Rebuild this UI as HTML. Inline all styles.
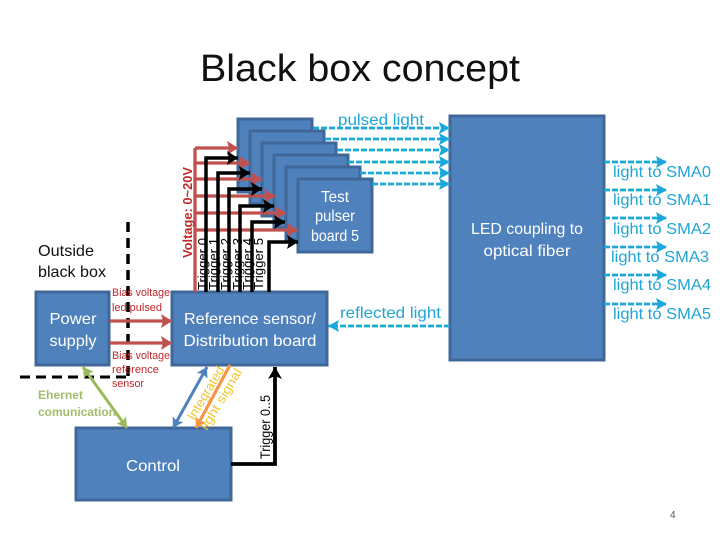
<!DOCTYPE html>
<html>
<head>
<meta charset="utf-8">
<style>
html,body{margin:0;padding:0;background:#fff;width:720px;height:540px;overflow:hidden}
svg{display:block}
text{font-family:"Liberation Sans",sans-serif}
.b{fill:#4f81bd;stroke:#3f6797;stroke-width:3}
.w{fill:#fff;font-size:16px;text-anchor:middle}
.c{fill:#1fa5d6;font-size:16px}
.r{stroke:#c0504d;stroke-width:3.3;fill:none}
.k{stroke:#000;stroke-width:3.5;fill:none}
.d{stroke:#1aa7dc;stroke-width:2.8;stroke-dasharray:6 2;fill:none}
.s{fill:#c0282a;font-size:11px}
.t{fill:#000;font-size:13px}
</style>
</head>
<body>
<svg width="720" height="540" viewBox="0 0 720 540" xmlns="http://www.w3.org/2000/svg">
<defs>
<marker id="ar" markerUnits="userSpaceOnUse" markerWidth="14" markerHeight="14" refX="11" refY="7" orient="auto"><path d="M0 0L11 7L0 14L2 7Z" fill="#c0504d"/></marker>
<marker id="ak" markerUnits="userSpaceOnUse" markerWidth="14" markerHeight="14" refX="11" refY="7" orient="auto"><path d="M0 0L11 7L0 14L2 7Z" fill="#000"/></marker>
<marker id="ac" markerUnits="userSpaceOnUse" markerWidth="14" markerHeight="12" refX="11" refY="6" orient="auto"><path d="M0 0L11 6L0 12L2 6Z" fill="#1aa7dc"/></marker>
<marker id="ag" markerUnits="userSpaceOnUse" markerWidth="12" markerHeight="12" refX="10" refY="6" orient="auto-start-reverse"><path d="M0 0L10 6L0 12L2 6Z" fill="#9bbb59"/></marker>
<marker id="ab" markerUnits="userSpaceOnUse" markerWidth="12" markerHeight="12" refX="10" refY="6" orient="auto-start-reverse"><path d="M0 0L10 6L0 12L2 6Z" fill="#4f81bd"/></marker>
<marker id="ao" markerUnits="userSpaceOnUse" markerWidth="12" markerHeight="12" refX="10" refY="6" orient="auto"><path d="M0 0L10 6L0 12L2 6Z" fill="#f79646"/></marker>
<marker id="aK" markerUnits="userSpaceOnUse" markerWidth="16" markerHeight="16" refX="12" refY="8" orient="auto"><path d="M0 1L12 8L0 15L3 8Z" fill="#000"/></marker>
</defs>

<text x="200" y="81" font-size="38" fill="#111" textLength="320" lengthAdjust="spacingAndGlyphs">Black box concept</text>

<!-- test pulser boards -->
<rect class="b" x="238" y="119" width="74" height="73"/>
<rect class="b" x="250" y="131" width="74" height="73"/>
<rect class="b" x="262" y="143" width="74" height="73"/>
<rect class="b" x="274" y="155" width="74" height="73"/>
<rect class="b" x="286" y="167" width="74" height="73"/>
<rect class="b" x="298" y="179" width="74" height="73"/>

<!-- main boxes -->
<rect class="b" x="450" y="116" width="154" height="244"/>
<rect class="b" x="172" y="292" width="155" height="73"/>
<rect class="b" x="36" y="292" width="73" height="73"/>
<rect class="b" x="76" y="428" width="155" height="72"/>

<!-- red voltage -->
<path class="r" d="M195 292V148"/>
<path class="r" d="M195 148H238" marker-end="url(#ar)"/>
<path class="r" d="M195 163H250" marker-end="url(#ar)"/>
<path class="r" d="M195 179H262" marker-end="url(#ar)"/>
<path class="r" d="M195 196H275" marker-end="url(#ar)"/>
<path class="r" d="M195 213H286" marker-end="url(#ar)"/>
<path class="r" d="M195 230H298" marker-end="url(#ar)"/>

<!-- black triggers -->
<path class="k" d="M206 292V158H238" marker-end="url(#ak)"/>
<path class="k" d="M218 292V173H250" marker-end="url(#ak)"/>
<path class="k" d="M229 292V189H262" marker-end="url(#ak)"/>
<path class="k" d="M240 292V206H274" marker-end="url(#ak)"/>
<path class="k" d="M252 292V222H285" marker-end="url(#ak)"/>
<path class="k" d="M269 292V242H298" marker-end="url(#ak)"/>

<!-- pulsed light dashes -->
<path class="d" d="M313 128H450" marker-end="url(#ac)"/>
<path class="d" d="M325 139H450" marker-end="url(#ac)"/>
<path class="d" d="M337 150H450" marker-end="url(#ac)"/>
<path class="d" d="M348 162H450" marker-end="url(#ac)"/>
<path class="d" d="M360 173H450" marker-end="url(#ac)"/>
<path class="d" d="M372 184H450" marker-end="url(#ac)"/>

<!-- output dashes -->
<path class="d" d="M604 162H667" marker-end="url(#ac)"/>
<path class="d" d="M604 190H667" marker-end="url(#ac)"/>
<path class="d" d="M604 218H667" marker-end="url(#ac)"/>
<path class="d" d="M604 247H667" marker-end="url(#ac)"/>
<path class="d" d="M604 275H667" marker-end="url(#ac)"/>
<path class="d" d="M604 304H667" marker-end="url(#ac)"/>

<!-- reflected -->
<path class="d" d="M450 326H328" marker-end="url(#ac)"/>

<!-- black box boundary -->
<path d="M128 222V378" stroke="#000" stroke-width="3.5" stroke-dasharray="10 6" fill="none"/>
<path d="M20 377H128" stroke="#000" stroke-width="3" stroke-dasharray="10 6" fill="none"/>

<!-- bias arrows -->
<path class="r" d="M110 321H172" marker-end="url(#ar)"/>
<path class="r" d="M110 343H172" marker-end="url(#ar)"/>

<!-- diagonal -->
<path d="M83 367L127 428" stroke="#9bbb59" stroke-width="3" fill="none" marker-start="url(#ag)" marker-end="url(#ag)"/>
<path d="M207 367L173 428" stroke="#4f81bd" stroke-width="3" fill="none" marker-start="url(#ab)" marker-end="url(#ab)"/>

<!-- Trigger 0..5 -->
<path d="M231 464H275V367" stroke="#000" stroke-width="3.8" fill="none" marker-end="url(#aK)"/>

<!-- box labels -->
<text class="w" x="335" y="202" textLength="28" lengthAdjust="spacingAndGlyphs">Test</text>
<text class="w" x="335" y="221" textLength="40" lengthAdjust="spacingAndGlyphs">pulser</text>
<text class="w" x="335" y="241" textLength="48" lengthAdjust="spacingAndGlyphs">board 5</text>
<text class="w" x="527" y="234" textLength="112" lengthAdjust="spacingAndGlyphs">LED coupling to</text>
<text class="w" x="527" y="256" textLength="87" lengthAdjust="spacingAndGlyphs">optical fiber</text>
<text class="w" x="250" y="324" textLength="132" lengthAdjust="spacingAndGlyphs">Reference sensor/</text>
<text class="w" x="250" y="346" textLength="133" lengthAdjust="spacingAndGlyphs">Distribution board</text>
<text class="w" x="73" y="324" textLength="47" lengthAdjust="spacingAndGlyphs">Power</text>
<text class="w" x="73" y="346" textLength="47" lengthAdjust="spacingAndGlyphs">supply</text>
<text class="w" x="153" y="471" textLength="54" lengthAdjust="spacingAndGlyphs">Control</text>

<text x="38" y="256" font-size="16" fill="#111" textLength="56" lengthAdjust="spacingAndGlyphs">Outside</text>
<text x="38" y="277" font-size="16" fill="#111" textLength="68" lengthAdjust="spacingAndGlyphs">black box</text>

<!-- cyan labels -->
<text class="c" x="338" y="125" textLength="86" lengthAdjust="spacingAndGlyphs">pulsed light</text>
<text class="c" x="340" y="318" textLength="101" lengthAdjust="spacingAndGlyphs">reflected light</text>
<text class="c" x="613" y="177" textLength="98" lengthAdjust="spacingAndGlyphs">light to SMA0</text>
<text class="c" x="613" y="205" textLength="98" lengthAdjust="spacingAndGlyphs">light to SMA1</text>
<text class="c" x="613" y="234" textLength="98" lengthAdjust="spacingAndGlyphs">light to SMA2</text>
<text class="c" x="611" y="262" textLength="98" lengthAdjust="spacingAndGlyphs">light to SMA3</text>
<text class="c" x="613" y="290" textLength="98" lengthAdjust="spacingAndGlyphs">light to SMA4</text>
<text class="c" x="613" y="319" textLength="98" lengthAdjust="spacingAndGlyphs">light to SMA5</text>

<!-- small red labels -->
<text class="s" x="112" y="296" textLength="58" lengthAdjust="spacingAndGlyphs">Bias voltage</text>
<text class="s" x="112" y="311" textLength="50" lengthAdjust="spacingAndGlyphs">led pulsed</text>
<text class="s" x="112" y="359" textLength="58" lengthAdjust="spacingAndGlyphs">Bias voltage</text>
<text class="s" x="112" y="373" textLength="47" lengthAdjust="spacingAndGlyphs">reference</text>
<text class="s" x="112" y="387" textLength="32" lengthAdjust="spacingAndGlyphs">sensor</text>

<!-- green labels -->
<text x="38" y="399" font-size="12" font-weight="bold" fill="#a3bd6a" textLength="45" lengthAdjust="spacingAndGlyphs">Ehernet</text>
<text x="38" y="416" font-size="12" font-weight="bold" fill="#a3bd6a" textLength="78" lengthAdjust="spacingAndGlyphs">comunication</text>

<!-- vertical labels -->
<text transform="translate(192,258) rotate(-90)" font-size="13" font-weight="bold" fill="#c0282a" textLength="91" lengthAdjust="spacingAndGlyphs">Voltage: 0~20V</text>
<text class="t" transform="translate(207,290) rotate(-90)" textLength="52" lengthAdjust="spacingAndGlyphs">Trigger 0</text>
<text class="t" transform="translate(218,290) rotate(-90)" textLength="52" lengthAdjust="spacingAndGlyphs">Trigger 1</text>
<text class="t" transform="translate(230,290) rotate(-90)" textLength="52" lengthAdjust="spacingAndGlyphs">Trigger 2</text>
<text class="t" transform="translate(242,290) rotate(-90)" textLength="52" lengthAdjust="spacingAndGlyphs">Trigger 3</text>
<text class="t" transform="translate(252,290) rotate(-90)" textLength="52" lengthAdjust="spacingAndGlyphs">Trigger 4</text>
<text class="t" transform="translate(263,290) rotate(-90)" textLength="52" lengthAdjust="spacingAndGlyphs">Trigger 5</text>
<text transform="translate(270,459) rotate(-90)" font-size="14" fill="#000" textLength="64" lengthAdjust="spacingAndGlyphs">Trigger 0..5</text>

<!-- integrated light signal -->
<text transform="translate(194,421) rotate(-59)" font-size="13" fill="#f2c52e" textLength="60" lengthAdjust="spacingAndGlyphs">Integrated</text>
<text transform="translate(207,431) rotate(-59)" font-size="13" fill="#f2c52e" textLength="69" lengthAdjust="spacingAndGlyphs">light signal</text>
<path d="M230 365L196 428" stroke="#f79646" stroke-width="3.2" fill="none" marker-end="url(#ao)"/>

<text x="670" y="518" font-size="10" fill="#555">4</text>
</svg>
</body>
</html>
